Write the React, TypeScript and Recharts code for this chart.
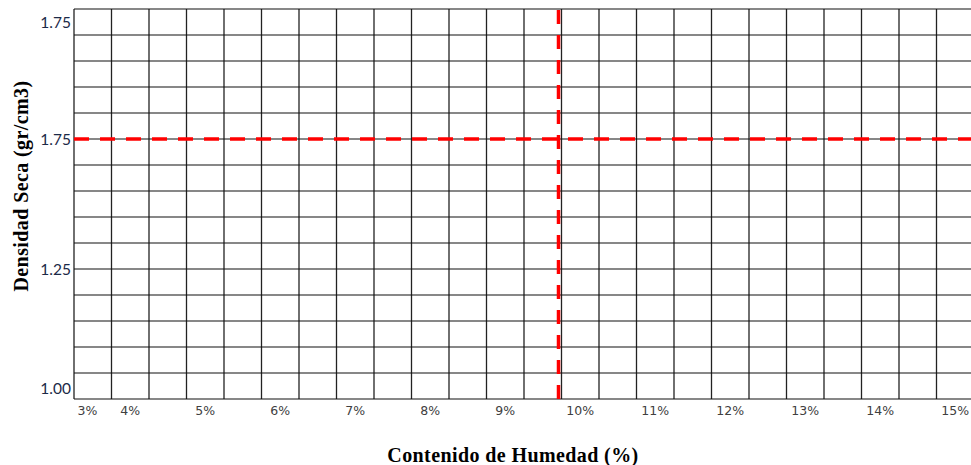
import React from "react";
import { LineChart, XAxis, YAxis, ReferenceLine, Label } from "recharts";

// Tick values (axis units) and their printed labels
const xTickValues = [3.43, 4, 5, 6, 7, 8, 9, 10, 11, 12, 13, 14, 15];
const yTickValues = [2.2, 1.75, 1.25, 0.79];
const yTickLabels = ["1.75", "1.75", "1.25", "1.00"];

// Grid lines (axis units)
const xGridValues = [
  3.25, 3.75, 4.25, 4.75, 5.25, 5.75, 6.25, 6.75, 7.25, 7.75, 8.25, 8.75, 9.25,
  9.75, 10.25, 10.75, 11.25, 11.75, 12.25, 12.75, 13.25, 13.75, 14.25, 14.75, 15.25,
];
const yGridValues = [
  0.75, 0.85, 0.95, 1.05, 1.15, 1.25, 1.35, 1.45, 1.55, 1.65, 1.75, 1.85, 1.95,
  2.05, 2.15, 2.25,
];

// Reference (optimum) values
const optimumMoisture = 9.71;
const maxDryDensity = 1.75;

const chartData: { x: number; y: number }[] = [];

const serif = "'Liberation Serif', 'Times New Roman', serif";

export default function App() {
  return (
    <div
      style={{
        position: "absolute",
        left: 0,
        top: 0,
        width: 971,
        height: 465,
        overflow: "hidden",
        background: "#fff",
      }}
    >
      <LineChart
        width={980}
        height={465}
        data={chartData}
        margin={{ top: 9, right: 6, left: 0, bottom: 0 }}
      >
        <XAxis
          type="number"
          dataKey="x"
          domain={[3.25, 15.25]}
          allowDataOverflow
          ticks={xTickValues}
          interval={0}
          tickFormatter={(v: number) => `${Math.round(v)}%`}
          axisLine={false}
          tickLine={false}
          tickSize={0}
          tickMargin={7}
          height={66}
          tick={{ fontFamily: "'DejaVu Sans', Verdana, sans-serif", fontSize: 12.5, fill: "#404040" }}
        >
          <Label
            value="Contenido de Humedad (%)"
            position="insideBottom"
            offset={3}
            dx={-11}
            style={{ fontFamily: serif, fontWeight: 700, fontSize: 20, letterSpacing: 0.4, fill: "#000" }}
          />
        </XAxis>
        <YAxis
          type="number"
          dataKey="y"
          domain={[0.75, 2.25]}
          allowDataOverflow
          ticks={yTickValues}
          interval={0}
          tickFormatter={(v: number) => {
            const i = yTickValues.indexOf(v);
            return i >= 0 ? yTickLabels[i] : "";
          }}
          axisLine={false}
          tickLine={false}
          tickSize={0}
          tickMargin={3}
          width={74}
          tick={{ fontFamily: "Lato, sans-serif", fontSize: 15.5, fill: "#1c2a48" }}
        >
          <Label
            value="Densidad Seca (gr/cm3)"
            position="center"
            angle={-90}
            dx={-16}
            dy={-18}
            style={{ fontFamily: serif, fontWeight: 700, fontSize: 20, letterSpacing: 0.4, fill: "#000", textAnchor: "middle" }}
          />
        </YAxis>
        {xGridValues.map((v) => (
          <ReferenceLine key={"gx" + v} x={v} stroke="#222" strokeWidth={1.3} />
        ))}
        {yGridValues.map((v) => (
          <ReferenceLine key={"gy" + v} y={v} stroke="#111" strokeWidth={1.2} />
        ))}
        <ReferenceLine
          y={maxDryDensity}
          stroke="#ff0000"
          strokeWidth={3.5}
          strokeDasharray="15 11"
        />
        <ReferenceLine
          x={optimumMoisture}
          stroke="#ff0000"
          strokeWidth={3.5}
          strokeDasharray="14 11"
        />
      </LineChart>
    </div>
  );
}
